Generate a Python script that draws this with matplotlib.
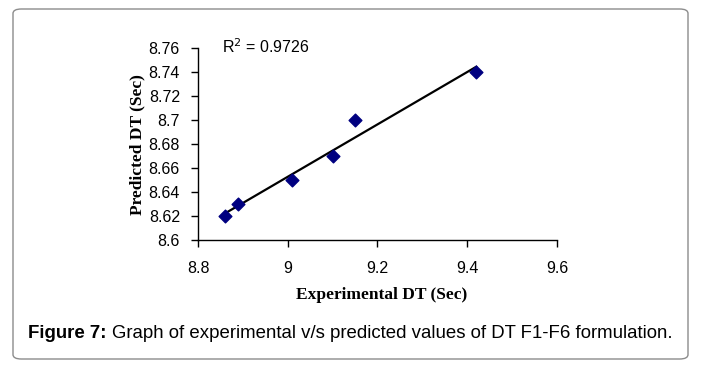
import numpy as np
import matplotlib
matplotlib.use("Agg")
import matplotlib.pyplot as plt
from matplotlib.patches import FancyBboxPatch
from matplotlib.ticker import FuncFormatter

experimental = [8.86, 8.89, 9.01, 9.10, 9.15, 9.42]
predicted = [8.62, 8.63, 8.65, 8.67, 8.70, 8.74]
x_ticks = [8.8, 9.0, 9.2, 9.4, 9.6]
y_ticks = [8.60, 8.62, 8.64, 8.66, 8.68, 8.70, 8.72, 8.74, 8.76]
r2_label = "R$^2$ = 0.9726"
x_label = "Experimental DT (Sec)"
y_label = "Predicted DT (Sec)"

W, H = 701, 368
fig = plt.figure(figsize=(W / 100, H / 100), dpi=100)

# rounded border
border = FancyBboxPatch((13 / W, 9 / H), (688 - 13) / W, (359 - 9) / H,
                        boxstyle="round,pad=0,rounding_size=0.012",
                        transform=fig.transFigure, facecolor="white",
                        edgecolor="#8c8c8c", linewidth=1.0, zorder=-5)
fig.patches.append(border)

ax = fig.add_axes([198 / W, 1 - 240 / H, (557 - 198) / W, (240 - 48) / H])
ax.set_facecolor("none")
ax.set_zorder(2)

ex = np.array(experimental)
pr = np.array(predicted)
slope, intercept = np.polyfit(ex, pr, 1)
xl = np.array([ex.min(), ex.max()])
ax.plot(xl, slope * xl + intercept, color="black", lw=1.6, zorder=2)
ax.scatter(ex, pr, marker="D", s=42, color="#000080", edgecolors="#000080",
           zorder=3)

ax.set_xlim(8.8, 9.6)
ax.set_ylim(8.6, 8.76)
ax.set_xticks(x_ticks)
ax.set_yticks(y_ticks)
ax.xaxis.set_major_formatter(FuncFormatter(lambda v, p: f"{round(v, 2):g}"))
ax.yaxis.set_major_formatter(FuncFormatter(lambda v, p: f"{round(v, 2):g}"))
for s in ["top", "right"]:
    ax.spines[s].set_visible(False)
for s in ["left", "bottom"]:
    ax.spines[s].set_linewidth(1.0)
    ax.spines[s].set_color("black")
ax.tick_params(axis="both", direction="out", length=5, width=1,
               labelsize=11.5, colors="black")
ax.tick_params(axis="y", pad=8)
ax.tick_params(axis="x", pad=10)
for lab in ax.get_xticklabels() + ax.get_yticklabels():
    lab.set_family("Liberation Sans")

fig.text(222 / W, 1 - 47 / H, r2_label, fontsize=11.5,
         family="Liberation Sans", va="center", ha="left")

fig.text(382 / W, 1 - 295 / H, x_label, fontsize=12.5, fontweight="bold",
         family="Liberation Serif", ha="center", va="center")
fig.text(137 / W, 1 - 145 / H, y_label, fontsize=12.5, fontweight="bold",
         family="Liberation Serif", ha="center", va="center", rotation=90)

# caption
cap_y = 1 - 333 / H
t1 = fig.text(28 / W, cap_y, "Figure 7:", fontsize=13.4, fontweight="bold",
              family="Liberation Sans", ha="left", va="center")
fig.canvas.draw()
bb = t1.get_window_extent()
fig.text((bb.x1 + 5) / W, cap_y,
         "Graph of experimental v/s predicted values of DT F1-F6 formulation.",
         fontsize=13.4, family="Liberation Sans", ha="left", va="center")

fig.savefig("out.png", dpi=100)
